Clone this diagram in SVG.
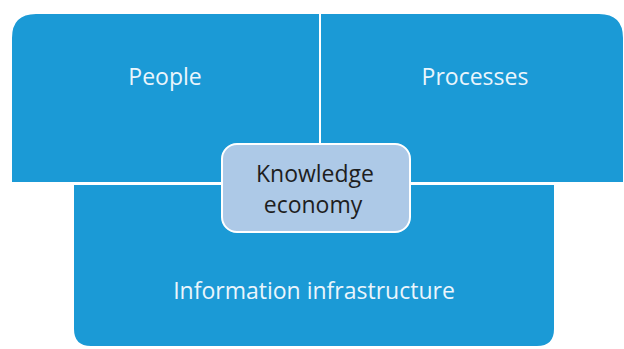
<svg xmlns="http://www.w3.org/2000/svg" width="624" height="349" viewBox="0 0 624 349">
  <style>
    .panel { fill: #1b9ad6; stroke: #ffffff; stroke-width: 2; }
    .core { fill: #adc9e7; stroke: #ffffff; stroke-width: 2; }
    .light { font-family: "Open Sans", "Noto Sans", sans-serif; font-size: 23px; fill: #eaf5fc; text-anchor: middle; }
    .dark { font-family: "Open Sans", "Noto Sans", sans-serif; font-size: 23px; fill: #1e1e1e; text-anchor: middle; }
  </style>
  <rect width="624" height="349" fill="#ffffff"/>

  <!-- top-left panel: rounded top-left corner -->
  <g id="people">
    <path class="panel" d="M11,183 L11,38 Q11,13 36,13 L320,13 L320,183 Z"/>
    <text class="light" x="165" y="85">People</text>
  </g>

  <!-- top-right panel: rounded top-right corner -->
  <g id="processes">
    <path class="panel" d="M320,13 L599,13 Q624,13 624,38 L624,183 L320,183 Z"/>
    <text class="light" x="475" y="85">Processes</text>
  </g>

  <!-- bottom panel: rounded bottom corners -->
  <g id="information-infrastructure">
    <path class="panel" d="M73,184 L555,184 L555,329 Q555,347 537,347 L91,347 Q73,347 73,329 Z"/>
    <text class="light" x="314" y="299">Information infrastructure</text>
  </g>

  <!-- central node -->
  <g id="knowledge-economy">
    <rect class="core" x="222" y="144" width="188" height="88" rx="15" ry="15"/>
    <text class="dark" x="315" y="182">Knowledge</text>
    <text class="dark" x="313" y="213">economy</text>
  </g>

  <g id="connectors"></g>
</svg>
